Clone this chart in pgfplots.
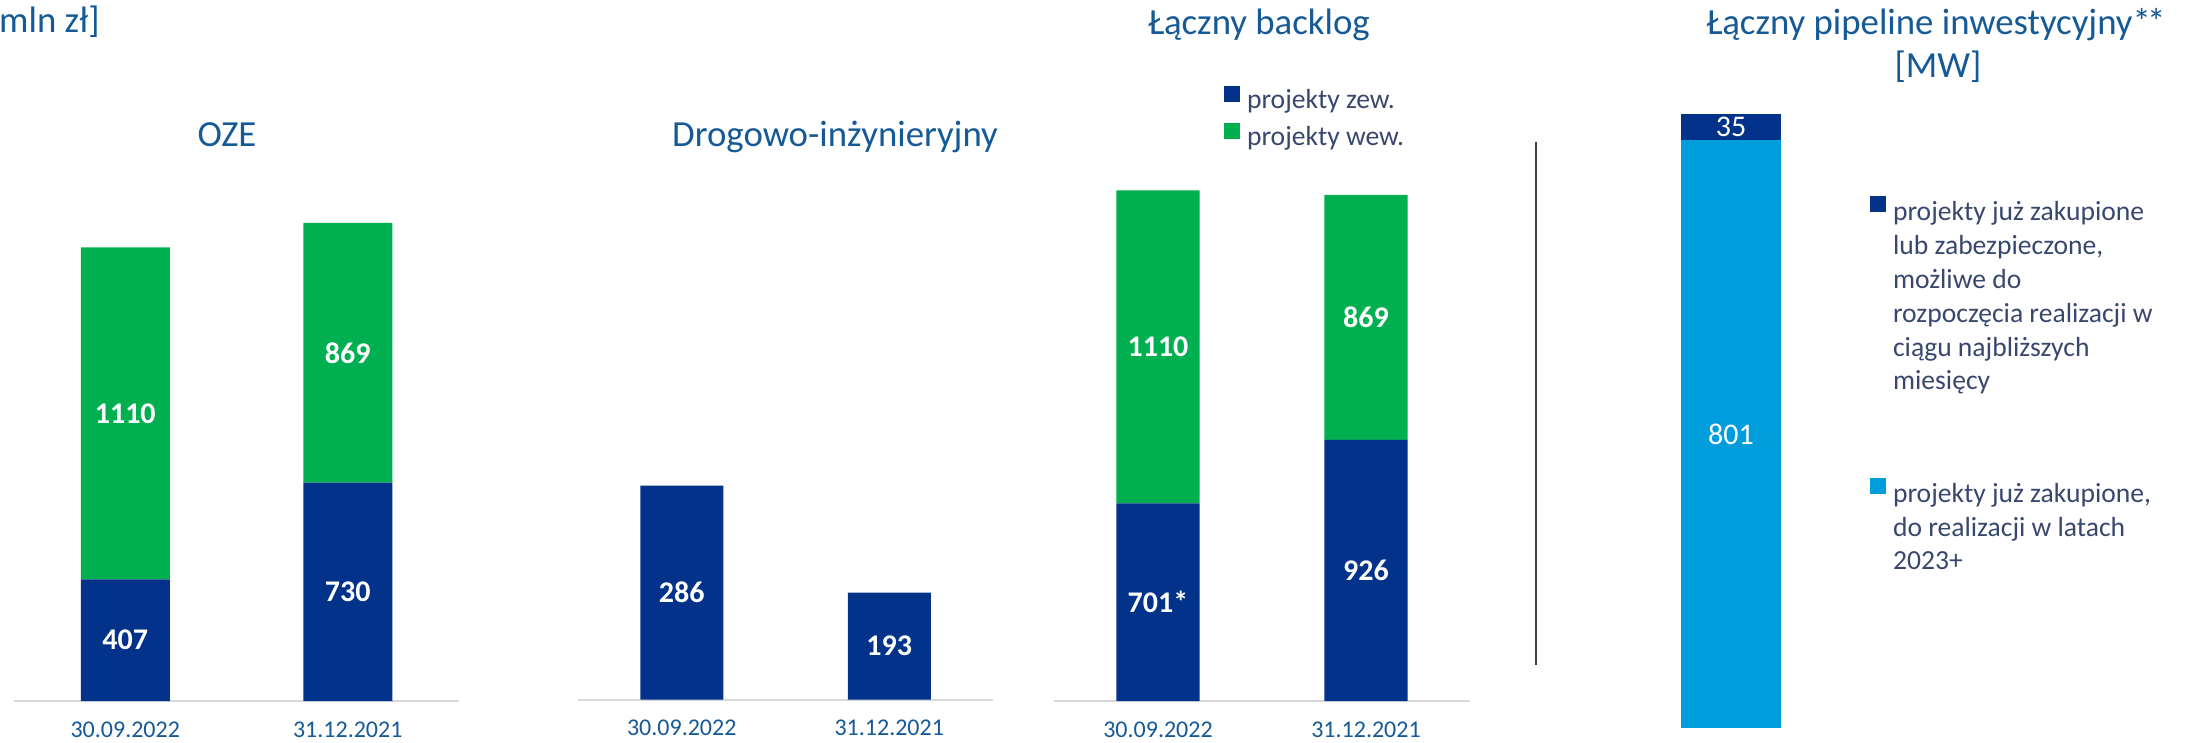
\documentclass[border=0pt]{standalone}
\usepackage{pgfplots}
\pgfplotsset{compat=1.18}
\usepackage{fontspec}
\setmainfont{Carlito}
\definecolor{dblue}{RGB}{2,50,138}
\definecolor{cgreen}{RGB}{0,176,80}
\definecolor{lblue}{RGB}{0,157,220}
\definecolor{tblue}{RGB}{21,90,150}
\definecolor{ltext}{RGB}{56,71,110}
\definecolor{axgray}{RGB}{217,217,217}
\newcommand\fs[1]{\fontsize{#1pt}{#1pt}\selectfont}
\pgfplotsset{
  panel/.style={
    scale only axis, ybar stacked, bar width=0.4,
    xmin=-0.5, xmax=1.5, xtick={0,1},
    xticklabels={30.09.2022,31.12.2021},
    axis x line*=bottom, hide y axis,
    axis line style={-},
    x axis line style={axgray, line width=1pt},
    major tick length=0pt,
    xticklabel style={font=\fs{12}, text=tblue, anchor=base, yshift=-18pt, inner sep=0pt},
  },
  lab/.style={point meta=explicit symbolic, nodes near coords,
    every node near coord/.append style={anchor=center, font=\bfseries\fs{15}, text=white}},
  labh/.style={point meta=explicit symbolic, nodes near coords,
    every node near coord/.append style={anchor=center, font=\bfseries\fs{15}, text=white,
      shift={(axis direction cs:0,50)}}},
  labp/.style={point meta=explicit symbolic, nodes near coords,
    every node near coord/.append style={anchor=center, font=\fs{15}, text=white}},
  sqlegend/.style={legend image code/.code={\fill[##1] (0pt,0pt) rectangle (8pt,8pt);}},
}
\begin{document}
\begin{tikzpicture}
\useasboundingbox (0pt,0pt) rectangle (1100.5pt,-371.5pt);

% titles
\node[anchor=base east, inner sep=0pt, text=tblue, font=\fs{18.4}] at (50pt,-16.5pt) {[mln zł]};
\node[anchor=base, inner sep=0pt, text=tblue, font=\fs{18.4}] at (113.5pt,-73.5pt) {OZE};
\node[anchor=base, inner sep=0pt, text=tblue, font=\fs{18.4}] at (417.5pt,-73.5pt) {Drogowo-inżynieryjny};
\node[anchor=base, inner sep=0pt, text=tblue, font=\fs{18.4}] at (629.5pt,-17.5pt) {Łączny backlog};
\node[anchor=base, inner sep=0pt, text=tblue, font=\fs{18.4}] at (968pt,-17.5pt) {Łączny pipeline inwestycyjny*\kern-0.1em*};
\node[anchor=base, inner sep=0pt, text=tblue, font=\fs{18.4}] at (969pt,-39pt) {[MW]};

% separator
\draw[black!75, line width=1pt] (768pt,-71pt) -- (768pt,-332.5pt);

% OZE
\begin{axis}[panel, at={(7pt,-350.5pt)}, anchor=south west,
  width=222.5pt, height=254.15pt, ymin=0, ymax=1700]
\addplot[fill=dblue, draw=none, lab] coordinates {(0,407)[407] (1,730)[730]};
\addplot[fill=cgreen, draw=none, lab] coordinates {(0,1110)[1110] (1,869)[869]};
\end{axis}

% Drogowo
\begin{axis}[panel, at={(289pt,-349.75pt)}, anchor=south west,
  width=207.5pt, height=201.25pt, ymin=100, ymax=450]
\addplot[fill=dblue, draw=none, labh] coordinates {(0,286)[286] (1,193)[193]};
\end{axis}

% Backlog
\begin{axis}[panel, at={(527pt,-350.5pt)}, anchor=south west,
  width=208pt, height=267.9pt, ymin=0, ymax=1900, sqlegend,
  legend cell align=left,
  legend style={at={(0.4087,1.1478)}, anchor=north west, draw=none, fill=none,
    inner sep=0pt, outer sep=0pt, row sep=3.5pt, font=\fs{13.8}, text=ltext,
    nodes={inner sep=0pt, text height=10pt, text depth=4pt},
    /tikz/every odd column/.append style={column sep=3.5pt}}]
\addplot[fill=dblue, draw=none, lab] coordinates {(0,701)[701*] (1,926)[926]};
\addlegendentry{projekty zew.}
\addplot[fill=cgreen, draw=none, lab] coordinates {(0,1110)[1110] (1,869)[869]};
\addlegendentry{projekty wew.}
\end{axis}

% Pipeline
\begin{axis}[scale only axis, ybar stacked, bar width=0.5, xmin=-0.5, xmax=0.5,
  ymin=0, ymax=900, width=100pt, height=330.3pt, hide axis,
  at={(815.5pt,-364pt)}, anchor=south west, sqlegend, reverse legend,
  legend cell align=left,
  legend style={at={(1.195,0.8048)}, anchor=north west, draw=none, fill=none,
    inner sep=0pt, outer sep=0pt, row sep=127pt, font=\fs{13.8}, text=ltext,
    nodes={inner sep=0pt},
    /tikz/every odd column/.append style={column sep=3.5pt}}]
\addplot[fill=lblue, draw=none, labp] coordinates {(0,801)[801]};
\addlegendentry{\parbox[t]{150pt}{\baselineskip=16.9pt\rule{0pt}{10pt}projekty już zakupione,\\do realizacji w latach\\2023+\rule[-4pt]{0pt}{4pt}}}
\addplot[fill=dblue, draw=none, labp] coordinates {(0,35)[35]};
\addlegendentry{\parbox[t]{150pt}{\baselineskip=16.9pt\rule{0pt}{10pt}projekty już zakupione\\lub zabezpieczone,\\możliwe do\\rozpoczęcia realizacji w\\ciągu najbliższych\\miesięcy\rule[-4pt]{0pt}{4pt}}}
\end{axis}
\end{tikzpicture}
\end{document}
